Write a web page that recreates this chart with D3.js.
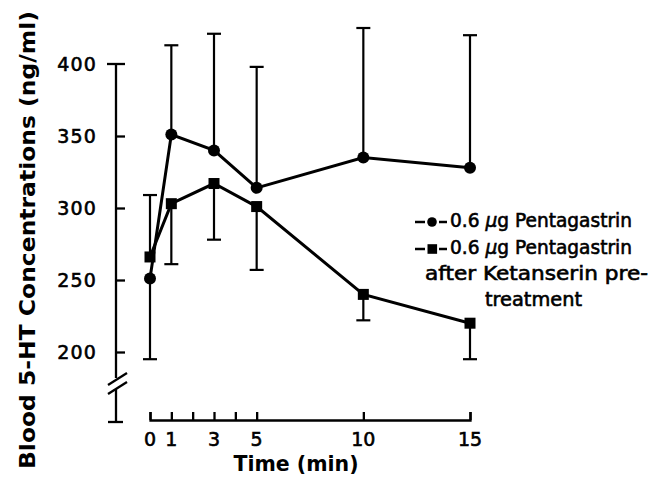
<!DOCTYPE html>
<html>
<head>
<meta charset="utf-8">
<script src="https://cdn.jsdelivr.net/npm/d3@7"></script>
<style>
  body { margin: 0; background: #fff; }
  svg { display: block; }
  text { font-family: "DejaVu Sans", sans-serif; fill: #000; }
  text.heavy { stroke: #000; stroke-width: 0.6px; }
</style>
</head>
<body>
<div id="chart"></div>
<script>
// time points (min)
const times = [0, 1, 3, 5, 10, 15];

// 0.6 ug pentagastrin (circles), error bar end values
const pentaMeans = [251, 351, 340, 314, 335, 328];
const pentaBarEnds = [195, 413, 421, 398, 425, 420];

// 0.6 ug pentagastrin after ketanserin (squares)
const ketanMeans = [266, 303, 317, 301, 240, 220];
const ketanBarEnds = [309, 261, 278, 257, 222, 195];

const xTicks = [0, 1, 2, 3, 4, 5, 10, 15];
const xTickLabels = [0, 1, 3, 5, 10, 15];
const yTicks = [200, 250, 300, 350, 400];

const width = 660, height = 478;

let svg = d3.select("#chart").append("svg")
    .attr("width", width)
    .attr("height", height);

// scales
let x = d3.scaleLinear().domain([0, 15]).range([150, 470]);
let y = d3.scaleLinear().domain([200, 400]).range([352, 64]);

let axisX = 116;   // y axis position
let baseY = 420;   // x axis position
let axisW = 2.3;

// Y axis line with break
let yBottom = y(200);
svg.append("line")
    .attr("x1", axisX).attr("x2", axisX)
    .attr("y1", y(400)).attr("y2", yBottom + 26)
    .attr("stroke", "#000").attr("stroke-width", axisW);
svg.append("line")
    .attr("x1", axisX).attr("x2", axisX)
    .attr("y1", yBottom + 37).attr("y2", baseY + 2)
    .attr("stroke", "#000").attr("stroke-width", axisW);
// break slashes
[0, 9].forEach(off => {
    svg.append("line")
        .attr("x1", axisX - 8).attr("y1", yBottom + 33 + off)
        .attr("x2", axisX + 11).attr("y2", yBottom + 21 + off)
        .attr("stroke", "#000").attr("stroke-width", axisW);
});
// bottom cap
svg.append("line")
    .attr("x1", axisX - 8).attr("x2", axisX + 7)
    .attr("y1", baseY + 2).attr("y2", baseY + 2)
    .attr("stroke", "#000").attr("stroke-width", axisW);

// y ticks (inward), top one is a cross cap
let yAxis = svg.append("g")
    .attr("transform", "translate(" + axisX + ",0)")
    .call(d3.axisRight(y).tickValues(yTicks.slice(0, -1)).tickSize(9).tickFormat(""));
yAxis.select(".domain").remove();
yAxis.selectAll(".tick line").attr("stroke-width", axisW);
svg.append("line")
    .attr("x1", axisX - 9).attr("x2", axisX + 9)
    .attr("y1", y(400)).attr("y2", y(400))
    .attr("stroke", "#000").attr("stroke-width", axisW);

svg.selectAll(".ylab")
    .data(yTicks)
    .enter().append("text")
    .attr("class", "ylab heavy")
    .attr("x", 97)
    .attr("y", d => y(d) + 7)
    .attr("text-anchor", "end")
    .attr("font-size", 19)
    .attr("letter-spacing", 1.2)
    .text(d => d);

// X axis
let xAxis = svg.append("g")
    .attr("transform", "translate(0," + baseY + ")")
    .call(d3.axisTop(x).tickValues(xTicks).tickSize(8).tickSizeOuter(8).tickFormat(""));
xAxis.select(".domain").attr("stroke-width", axisW);
xAxis.selectAll(".tick line").attr("stroke-width", axisW);

svg.selectAll(".xlab")
    .data(xTickLabels)
    .enter().append("text")
    .attr("class", "xlab heavy")
    .attr("x", d => x(d))
    .attr("y", 446)
    .attr("text-anchor", "middle")
    .attr("font-size", 19)
    .text(d => d);

// axis titles
svg.append("text")
    .attr("x", 296).attr("y", 471)
    .attr("text-anchor", "middle")
    .attr("font-size", 21)
    .attr("font-weight", "bold")
    .attr("textLength", 125)
    .attr("lengthAdjust", "spacingAndGlyphs")
    .text("Time (min)");

svg.append("text")
    .attr("transform", "translate(35,240) rotate(-90)")
    .attr("text-anchor", "middle")
    .attr("font-size", 22)
    .attr("font-weight", "bold")
    .attr("textLength", 458)
    .attr("lengthAdjust", "spacingAndGlyphs")
    .text("Blood 5-HT Concentrations (ng/ml)");

// series
let series = [
    {means: pentaMeans, ends: pentaBarEnds, shape: "circle"},
    {means: ketanMeans, ends: ketanBarEnds, shape: "square"}
];

let line = d3.line()
    .x(d => x(d.t))
    .y(d => y(d.v));

series.forEach(s => {
    let pts = times.map((t, i) => ({t: t, v: s.means[i], e: s.ends[i]}));
    let g = svg.append("g");

    // error bars
    g.selectAll(".err")
        .data(pts)
        .enter().append("line")
        .attr("x1", d => x(d.t)).attr("x2", d => x(d.t))
        .attr("y1", d => y(d.v)).attr("y2", d => y(d.e))
        .attr("stroke", "#000").attr("stroke-width", 2.2);
    g.selectAll(".cap")
        .data(pts)
        .enter().append("line")
        .attr("x1", d => x(d.t) - 7).attr("x2", d => x(d.t) + 7)
        .attr("y1", d => y(d.e)).attr("y2", d => y(d.e))
        .attr("stroke", "#000").attr("stroke-width", 2.2);

    g.append("path")
        .datum(pts)
        .attr("d", line)
        .attr("fill", "none")
        .attr("stroke", "#000")
        .attr("stroke-width", 3);

    if (s.shape === "circle") {
        g.selectAll(".pt")
            .data(pts)
            .enter().append("circle")
            .attr("cx", d => x(d.t)).attr("cy", d => y(d.v))
            .attr("r", 6);
    } else {
        g.selectAll(".pt")
            .data(pts)
            .enter().append("rect")
            .attr("x", d => x(d.t) - 5.5).attr("y", d => y(d.v) - 5.5)
            .attr("width", 11).attr("height", 11);
    }
});

// legend
let legend = svg.append("g");
let legendRows = [222, 249];
legendRows.forEach((ly, i) => {
    legend.append("line")
        .attr("x1", 415).attr("x2", 425).attr("y1", ly).attr("y2", ly)
        .attr("stroke", "#000").attr("stroke-width", 2.5);
    legend.append("line")
        .attr("x1", 439).attr("x2", 447).attr("y1", ly).attr("y2", ly)
        .attr("stroke", "#000").attr("stroke-width", 2.5);
    if (i === 0) {
        legend.append("circle").attr("cx", 432).attr("cy", ly).attr("r", 4.8);
    } else {
        legend.append("rect").attr("x", 427.5).attr("y", ly - 4.8).attr("width", 9.6).attr("height", 9.6);
    }
    let t = legend.append("text")
        .attr("class", "heavy")
        .attr("x", 450).attr("y", ly + 5)
        .attr("font-size", 19)
        .attr("textLength", 182)
        .attr("lengthAdjust", "spacingAndGlyphs");
    t.append("tspan").text("0.6 ");
    t.append("tspan").attr("font-style", "italic").text("\u03bc");
    t.append("tspan").text("g Pentagastrin");
});
legend.append("text")
    .attr("class", "heavy")
    .attr("x", 425).attr("y", 280)
    .attr("font-size", 19)
    .attr("textLength", 223)
    .attr("lengthAdjust", "spacingAndGlyphs")
    .text("after Ketanserin pre-");
legend.append("text")
    .attr("class", "heavy")
    .attr("x", 485).attr("y", 306)
    .attr("font-size", 19)
    .attr("textLength", 97)
    .attr("lengthAdjust", "spacingAndGlyphs")
    .text("treatment");
</script>
</body>
</html>
